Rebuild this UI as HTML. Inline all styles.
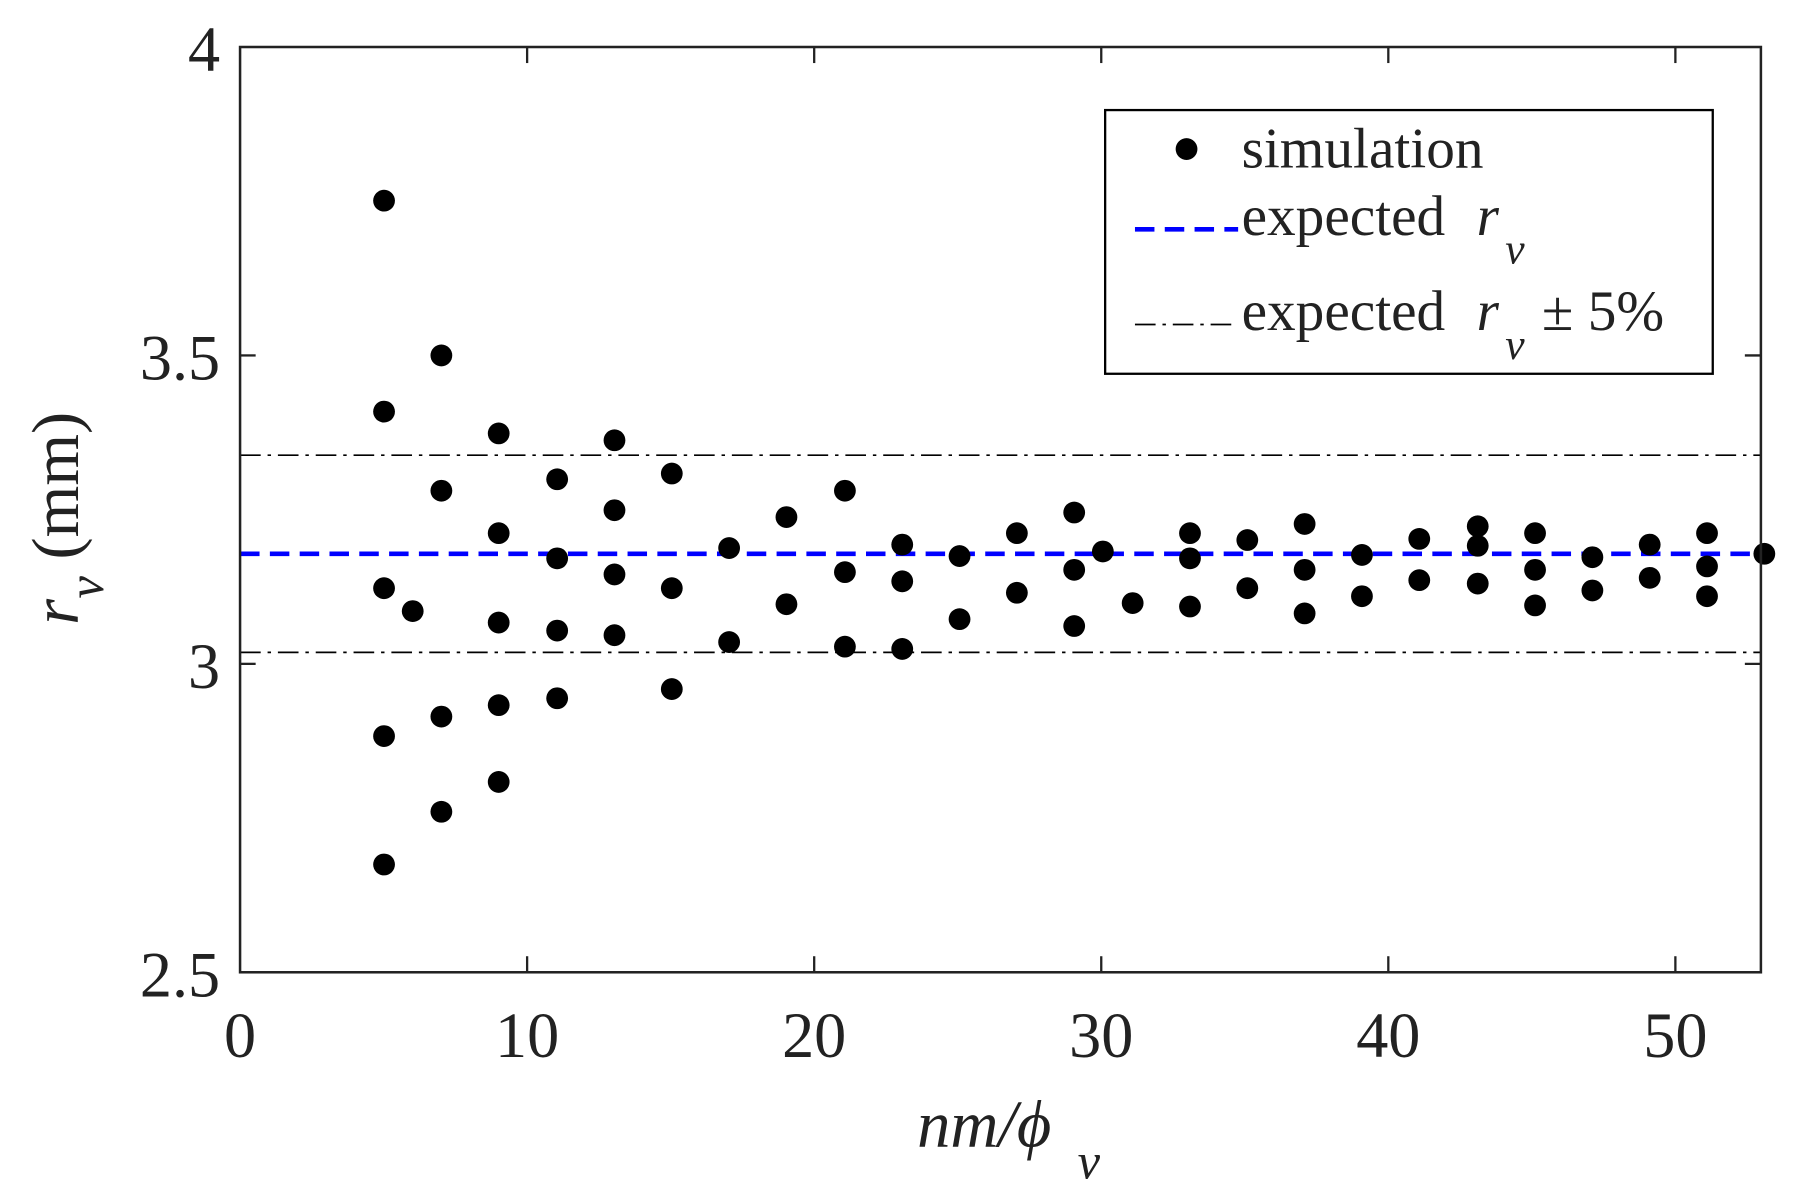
<!DOCTYPE html>
<html><head><meta charset="utf-8"><style>
html,body{margin:0;padding:0;background:#fff;}
svg{display:block;}
text{font-family:"Liberation Serif",serif;fill:#222;}
</style></head><body>
<svg width="1793" height="1197" viewBox="0 0 1564 1044" preserveAspectRatio="none" xmlns="http://www.w3.org/2000/svg">
<rect width="1564" height="1044" fill="#fff"/>
<line x1="209.4" y1="397" x2="1536" y2="397" stroke="#000" stroke-width="1.5" stroke-dasharray="18,6,3,6"/>
<line x1="209.4" y1="569" x2="1536" y2="569" stroke="#000" stroke-width="1.5" stroke-dasharray="18,6,3,6"/>
<line x1="209.4" y1="483" x2="1536" y2="483" stroke="#0000ff" stroke-width="4" stroke-dasharray="17,9"/>
<g fill="#000">
<circle cx="335" cy="175" r="9.5"/><circle cx="335" cy="359" r="9.5"/><circle cx="335" cy="513" r="9.5"/><circle cx="335" cy="642" r="9.5"/><circle cx="335" cy="754" r="9.5"/>
<circle cx="360" cy="533" r="9.5"/>
<circle cx="385" cy="310" r="9.5"/><circle cx="385" cy="428" r="9.5"/><circle cx="385" cy="625" r="9.5"/><circle cx="385" cy="708" r="9.5"/>
<circle cx="435" cy="378" r="9.5"/><circle cx="435" cy="465" r="9.5"/><circle cx="435" cy="543" r="9.5"/><circle cx="435" cy="615" r="9.5"/><circle cx="435" cy="682" r="9.5"/>
<circle cx="486" cy="418" r="9.5"/><circle cx="486" cy="487" r="9.5"/><circle cx="486" cy="550" r="9.5"/><circle cx="486" cy="609" r="9.5"/>
<circle cx="536" cy="384" r="9.5"/><circle cx="536" cy="445" r="9.5"/><circle cx="536" cy="501" r="9.5"/><circle cx="536" cy="554" r="9.5"/>
<circle cx="586" cy="413" r="9.5"/><circle cx="586" cy="513" r="9.5"/><circle cx="586" cy="601" r="9.5"/>
<circle cx="636" cy="478" r="9.5"/><circle cx="636" cy="560" r="9.5"/>
<circle cx="686" cy="451" r="9.5"/><circle cx="686" cy="527" r="9.5"/>
<circle cx="737" cy="428" r="9.5"/><circle cx="737" cy="499" r="9.5"/><circle cx="737" cy="564" r="9.5"/>
<circle cx="787" cy="475" r="9.5"/><circle cx="787" cy="507" r="9.5"/><circle cx="787" cy="566" r="9.5"/>
<circle cx="837" cy="485" r="9.5"/><circle cx="837" cy="540" r="9.5"/>
<circle cx="887" cy="465" r="9.5"/><circle cx="887" cy="517" r="9.5"/>
<circle cx="937" cy="447" r="9.5"/><circle cx="937" cy="497" r="9.5"/><circle cx="937" cy="546" r="9.5"/>
<circle cx="962" cy="481" r="9.5"/>
<circle cx="988" cy="526" r="9.5"/>
<circle cx="1038" cy="465" r="9.5"/><circle cx="1038" cy="487" r="9.5"/><circle cx="1038" cy="529" r="9.5"/>
<circle cx="1088" cy="471" r="9.5"/><circle cx="1088" cy="513" r="9.5"/>
<circle cx="1138" cy="457" r="9.5"/><circle cx="1138" cy="497" r="9.5"/><circle cx="1138" cy="535" r="9.5"/>
<circle cx="1188" cy="484" r="9.5"/><circle cx="1188" cy="520" r="9.5"/>
<circle cx="1238" cy="470" r="9.5"/><circle cx="1238" cy="506" r="9.5"/>
<circle cx="1289" cy="459" r="9.5"/><circle cx="1289" cy="476" r="9.5"/><circle cx="1289" cy="509" r="9.5"/>
<circle cx="1339" cy="465" r="9.5"/><circle cx="1339" cy="497" r="9.5"/><circle cx="1339" cy="528" r="9.5"/>
<circle cx="1389" cy="486" r="9.5"/><circle cx="1389" cy="515" r="9.5"/>
<circle cx="1439" cy="475" r="9.5"/><circle cx="1439" cy="504" r="9.5"/>
<circle cx="1489" cy="465" r="9.5"/><circle cx="1489" cy="494" r="9.5"/><circle cx="1489" cy="520" r="9.5"/>
<circle cx="1539" cy="483" r="9.5"/>
</g>
<rect x="209.4" y="41" width="1326.6" height="807" fill="none" stroke="#222" stroke-width="2.2"/>
<g stroke="#222" stroke-width="2">
<line x1="459.8" y1="848" x2="459.8" y2="834"/><line x1="710.2" y1="848" x2="710.2" y2="834"/><line x1="960.6" y1="848" x2="960.6" y2="834"/><line x1="1211" y1="848" x2="1211" y2="834"/><line x1="1461.4" y1="848" x2="1461.4" y2="834"/>
<line x1="459.8" y1="41" x2="459.8" y2="55"/><line x1="710.2" y1="41" x2="710.2" y2="55"/><line x1="960.6" y1="41" x2="960.6" y2="55"/><line x1="1211" y1="41" x2="1211" y2="55"/><line x1="1461.4" y1="41" x2="1461.4" y2="55"/>
<line x1="209.4" y1="310" x2="223" y2="310"/><line x1="209.4" y1="579" x2="223" y2="579"/>
<line x1="1536" y1="310" x2="1522" y2="310"/><line x1="1536" y1="579" x2="1522" y2="579"/>
</g>
<g font-size="56" text-anchor="middle">
<text x="209.4" y="922">0</text><text x="459.8" y="922">10</text><text x="710.2" y="922">20</text><text x="960.6" y="922">30</text><text x="1211" y="922">40</text><text x="1461.4" y="922">50</text>
</g>
<g font-size="56" text-anchor="end">
<text x="192" y="62">4</text><text x="192" y="331">3.5</text><text x="192" y="600">3</text><text x="192" y="869">2.5</text>
</g>
<text x="800" y="1000" font-size="58" font-style="italic">nm/ϕ</text>
<text x="940" y="1028" font-size="44" font-style="italic">v</text>
<g transform="translate(68,440) rotate(-90)">
<text x="-105" y="0" font-size="58" font-style="italic" fill="#555">r</text>
<text x="-82" y="22" font-size="44" font-style="italic" fill="#555">v</text>
<text x="-48" y="0" font-size="58" fill="#555">(mm)</text>
</g>
<rect x="964" y="96" width="530" height="230" fill="#fff" stroke="#000" stroke-width="2"/>
<circle cx="1035" cy="130" r="9.5" fill="#000"/>
<text x="1083" y="146" font-size="50">simulation</text>
<line x1="990" y1="200" x2="1080" y2="200" stroke="#0000ff" stroke-width="4" stroke-dasharray="17,9"/>
<text x="1083" y="205" font-size="50">expected</text>
<text x="1288" y="205" font-size="50" font-style="italic">r</text>
<text x="1313" y="230" font-size="38" font-style="italic">v</text>
<line x1="990" y1="283" x2="1080" y2="283" stroke="#000" stroke-width="1.5" stroke-dasharray="18,6,3,6"/>
<text x="1083" y="288" font-size="50">expected</text>
<text x="1288" y="288" font-size="50" font-style="italic">r</text>
<text x="1313" y="313" font-size="38" font-style="italic">v</text>
<text x="1345" y="288" font-size="50">± 5%</text>
</svg>
</body></html>
